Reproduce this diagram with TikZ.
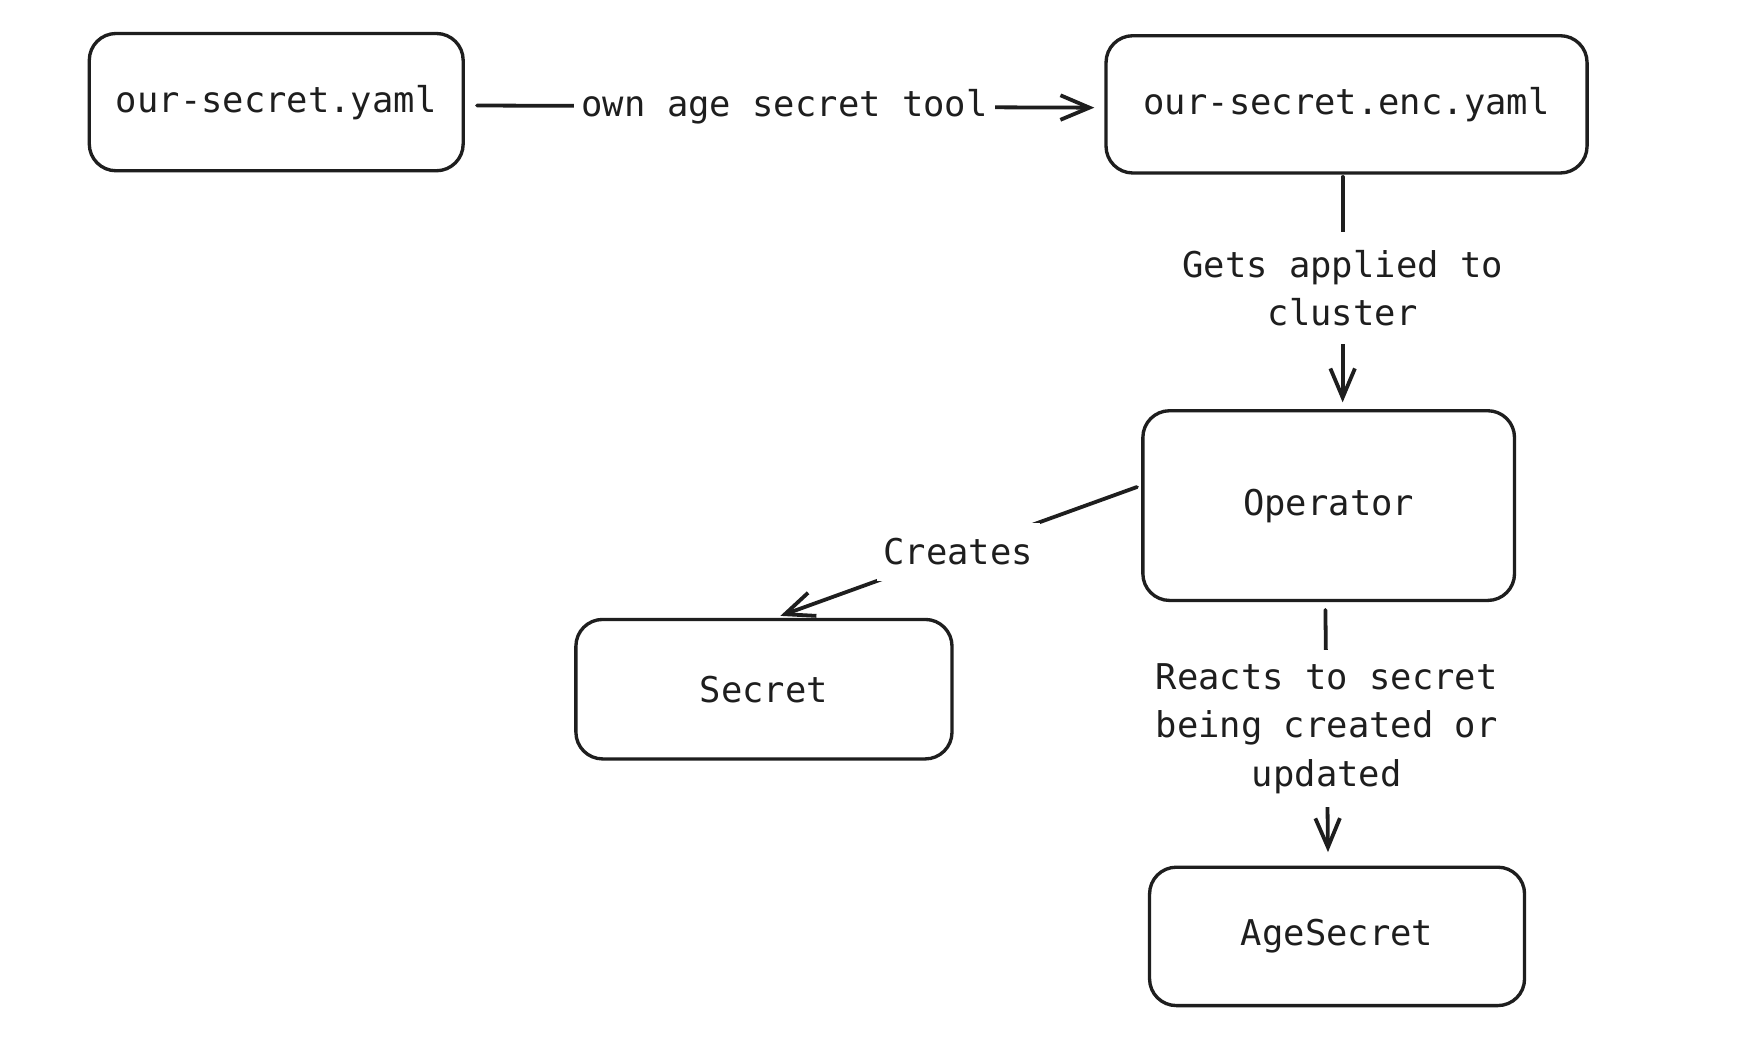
\documentclass[tikz,border=0pt]{standalone}
\usepackage{fontspec}
\setmonofont{DejaVu Sans Mono}
\usetikzlibrary{arrows.meta}
\definecolor{ink}{HTML}{1E1E1E}
\begin{document}
\begin{tikzpicture}[x=1pt,y=-1pt,
  txt/.style={font=\ttfamily\fontsize{31.8}{43.5}\selectfont, text=ink},
  box/.style={txt, draw=ink, line width=3pt, rounded corners=24pt, inner sep=0pt},
  lbl/.style={txt, fill=white, align=center},
  conn/.style={draw=ink, line width=3.4pt, line cap=round,
    -{Straight Barb[length=26pt,width=22pt,line width=3.4pt]}}]
\useasboundingbox[fill=white] (0,0) rectangle (1568,950);

\node[box, minimum width=335pt, minimum height=123pt] (A) at (247.5,91.5) {our-secret.yaml};
\node[box, minimum width=431pt, minimum height=123pt] (B) at (1206.5,93.5) {our-secret.enc.yaml};
\node[box, minimum width=333pt, minimum height=170pt] (C) at (1190.5,453) {Operator};
\node[box, minimum width=337pt, minimum height=125pt] (D) at (684.5,617.5) {Secret};
\node[box, minimum width=336pt, minimum height=124pt] (E) at (1198,839) {AgeSecret};

\coordinate (bc) at (1203,0);

\draw[conn, shorten <=11pt, shorten >=9pt] ([yshift=-3pt]A.east) -- node[lbl, inner xsep=7pt, inner ysep=6pt] {own age secret tool} ([yshift=-3pt]B.west);

\draw[conn, shorten <=2pt, shorten >=6pt] (B.south -| bc) -- node[lbl, inner xsep=8pt, inner ysep=16pt, pos=0.485] {Gets applied to\\cluster} (C.north -| bc);

\draw[conn, shorten <=4pt, shorten >=5pt] ([yshift=18pt]C.west) -- node[lbl, inner xsep=6pt, inner ysep=14pt] {Creates} ([xshift=10pt]D.north);

\draw[conn, shorten <=7pt, shorten >=12pt] ([xshift=-3pt]C.south) -- node[lbl, inner xsep=8pt, inner ysep=12pt, pos=0.48] {Reacts to secret\\being created or\\updated} ([xshift=-8pt]E.north);
\end{tikzpicture}
\end{document}
